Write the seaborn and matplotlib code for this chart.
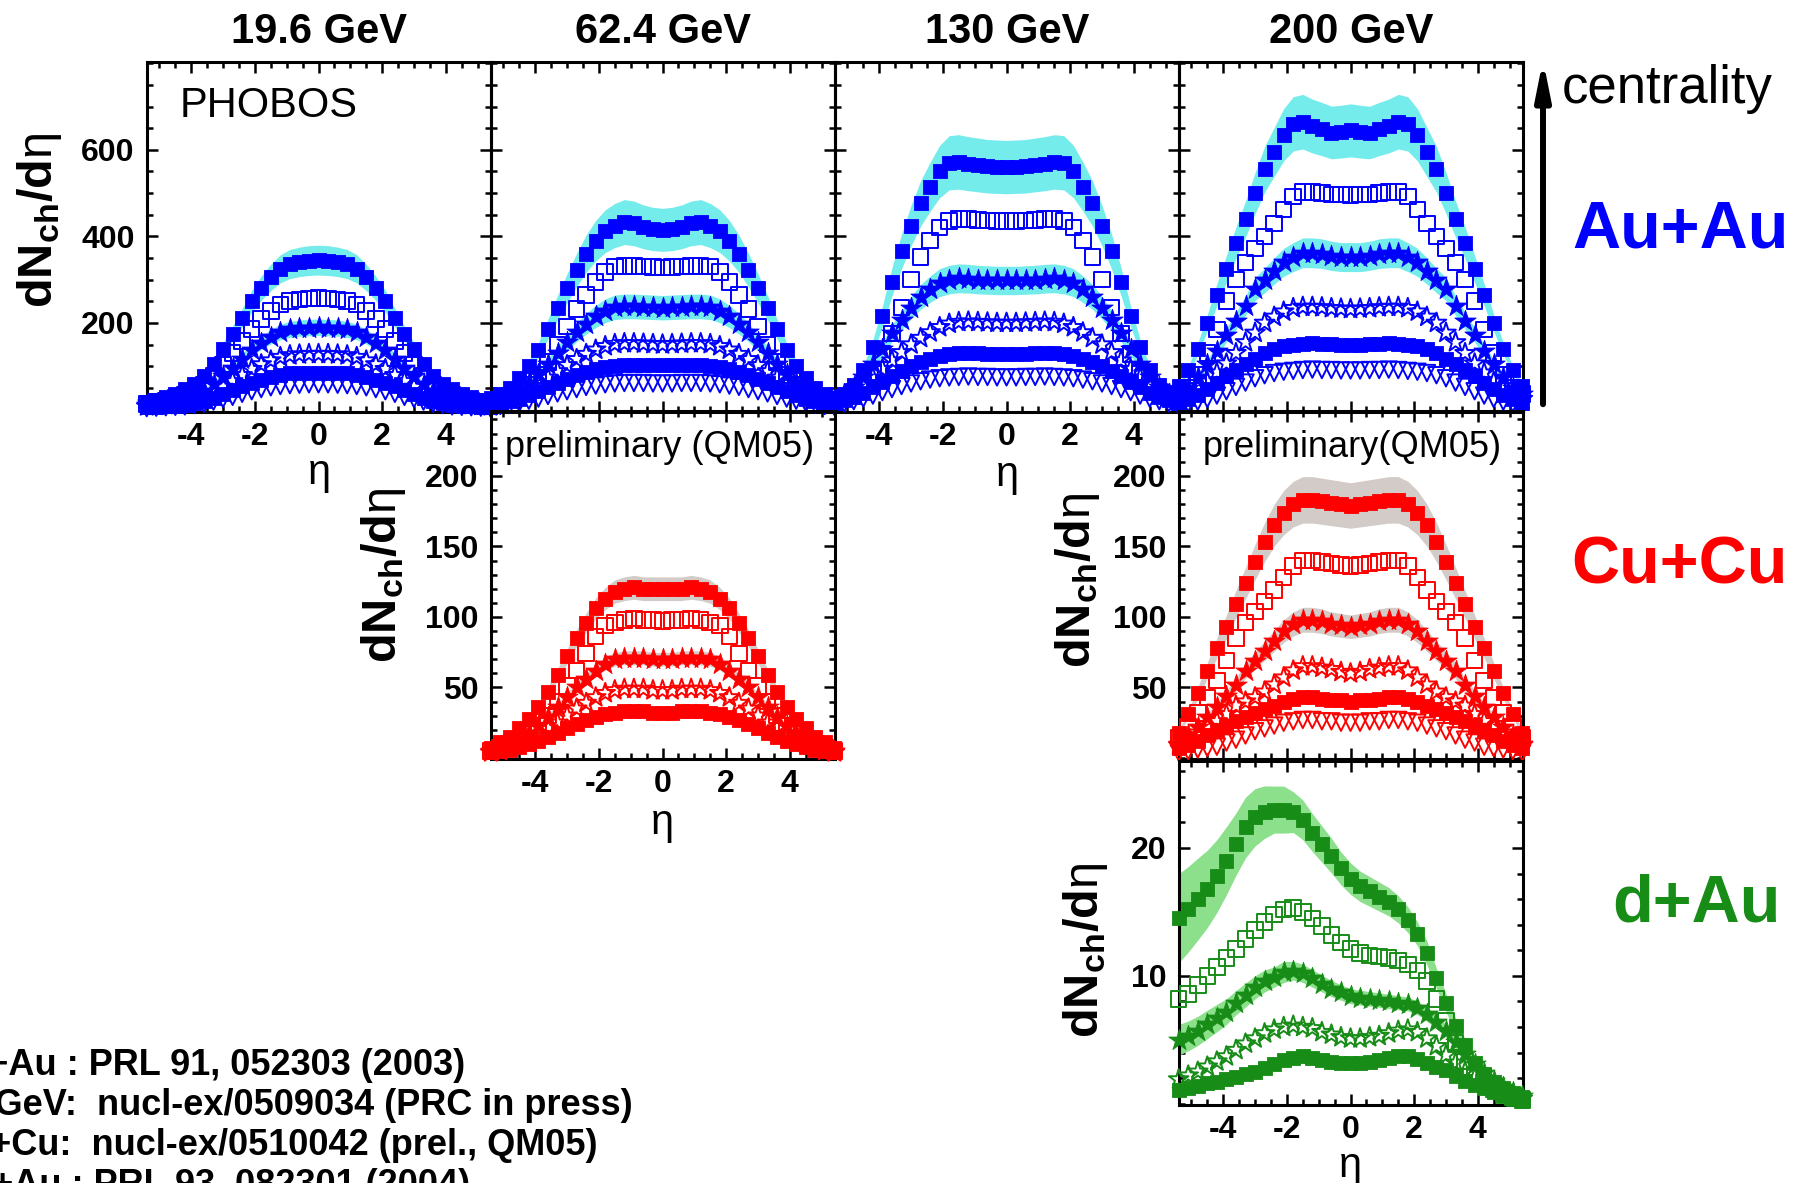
import numpy as np
import pandas as pd
import matplotlib
matplotlib.use("Agg")
import matplotlib.pyplot as plt
from matplotlib.patches import FancyArrowPatch
from matplotlib.ticker import MultipleLocator
import seaborn as sns

sns.set_style("ticks")
plt.rcParams.update({
    "font.family": ["Liberation Sans", "DejaVu Sans"],
    "mathtext.fontset": "custom",
    "mathtext.rm": "Liberation Sans",
    "mathtext.it": "Liberation Sans:italic",
    "mathtext.bf": "Liberation Sans:bold",
    "axes.edgecolor": "black",
    "xtick.color": "black",
    "ytick.color": "black",
    "text.color": "black",
})

W, H, DPI = 1811, 1183, 100

# pseudorapidity bins shared by all panels
eta = [-5.4, -5.1, -4.8, -4.5, -4.2, -3.9, -3.6, -3.3, -3.0, -2.7, -2.4, -2.1, -1.8,
       -1.5, -1.2, -0.9, -0.6, -0.3, 0.0, 0.3, 0.6, 0.9, 1.2, 1.5, 1.8, 2.1, 2.4,
       2.7, 3.0, 3.3, 3.6, 3.9, 4.2, 4.5, 4.8, 5.1, 5.4]

# ---- Au+Au dN/deta, centrality 0-6, 6-15, 15-25, 25-35, 35-45, 45-55 % ----
au19_c0 = [18, 22, 28, 36, 47, 58, 78, 105, 140, 175, 212, 250, 280, 305, 325, 336, 341, 344, 345, 344, 341, 336, 325, 305, 280, 250, 212, 175, 140, 105, 78, 58, 47, 36, 28, 22, 18]
au19_c1 = [13, 17, 21, 26, 33, 43, 58, 78, 104, 130, 158, 186, 209, 227, 242, 250, 254, 256, 257, 256, 254, 250, 242, 227, 209, 186, 158, 130, 104, 78, 58, 43, 33, 26, 21, 17, 13]
au19_c2 = [10, 12, 15, 19, 24, 32, 43, 58, 77, 96, 117, 138, 154, 168, 179, 185, 188, 189, 190, 189, 188, 185, 179, 168, 154, 138, 117, 96, 77, 58, 43, 32, 24, 19, 15, 12, 10]
au19_c3 = [7, 8, 10, 13, 16, 22, 29, 39, 52, 65, 79, 93, 104, 113, 121, 125, 127, 128, 128, 128, 127, 125, 121, 113, 104, 93, 79, 65, 52, 39, 29, 22, 16, 13, 10, 8, 7]
au19_c4 = [5, 6, 7, 9, 11, 15, 20, 27, 35, 44, 53, 62, 69, 75, 80, 83, 84, 85, 85, 85, 84, 83, 80, 75, 69, 62, 53, 44, 35, 27, 20, 15, 11, 9, 7, 6, 5]
au19_c5 = [3, 4, 5, 6, 7, 10, 13, 18, 24, 29, 36, 42, 47, 51, 54, 56, 57, 58, 58, 58, 57, 56, 54, 51, 47, 42, 36, 29, 24, 18, 13, 10, 7, 6, 5, 4, 3]

au62_c0 = [27, 36, 50, 72, 100, 137, 186, 235, 280, 322, 360, 390, 412, 425, 433, 430, 422, 417, 415, 417, 422, 430, 433, 425, 412, 390, 360, 322, 280, 235, 186, 137, 100, 72, 50, 36, 27]
au62_c1 = [17, 23, 31, 42, 58, 80, 110, 150, 192, 232, 265, 295, 318, 330, 332, 331, 330, 329, 328, 329, 330, 331, 332, 330, 318, 295, 265, 232, 192, 150, 110, 80, 58, 42, 31, 23, 17]
au62_c2 = [18, 24, 33, 45, 62, 82, 105, 130, 155, 178, 198, 215, 228, 236, 238, 238, 237, 236, 235, 236, 237, 238, 238, 236, 228, 215, 198, 178, 155, 130, 105, 82, 62, 45, 33, 24, 18]
au62_c3 = [13, 18, 25, 34, 45, 58, 73, 88, 102, 116, 128, 138, 146, 151, 153, 153, 152, 151, 150, 151, 152, 153, 153, 151, 146, 138, 128, 116, 102, 88, 73, 58, 45, 34, 25, 18, 13]
au62_c4 = [10, 14, 19, 25, 33, 42, 51, 61, 70, 79, 87, 93, 98, 101, 103, 103, 103, 102, 102, 102, 103, 103, 103, 101, 98, 93, 87, 79, 70, 61, 51, 42, 33, 25, 19, 14, 10]
au62_c5 = [6, 8, 11, 15, 20, 25, 31, 37, 42, 47, 52, 55, 58, 60, 61, 61, 61, 60, 60, 60, 61, 61, 61, 60, 58, 55, 52, 47, 42, 37, 31, 25, 20, 15, 11, 8, 6]

au130_c0 = [25, 36, 56, 90, 145, 215, 295, 365, 425, 476, 515, 550, 570, 572, 568, 565, 562, 561, 560, 561, 562, 565, 568, 572, 570, 550, 515, 476, 425, 365, 295, 215, 145, 90, 56, 36, 25]
au130_c1 = [18, 27, 40, 58, 85, 128, 175, 236, 300, 352, 390, 420, 435, 440, 440, 438, 437, 436, 435, 436, 437, 438, 440, 440, 435, 420, 390, 352, 300, 236, 175, 128, 85, 58, 40, 27, 18]
au130_c2 = [24, 35, 52, 75, 105, 140, 176, 206, 235, 260, 278, 293, 300, 303, 302, 300, 299, 298, 298, 298, 299, 300, 302, 303, 300, 293, 278, 260, 235, 206, 176, 140, 105, 75, 52, 35, 24]
au130_c3 = [19, 28, 40, 55, 73, 93, 113, 132, 150, 165, 178, 190, 198, 202, 203, 202, 201, 200, 200, 200, 201, 202, 203, 202, 198, 190, 178, 165, 150, 132, 113, 93, 73, 55, 40, 28, 19]
au130_c4 = [15, 21, 29, 39, 51, 64, 77, 89, 100, 110, 117, 123, 127, 130, 130, 130, 129, 128, 128, 128, 129, 130, 130, 130, 127, 123, 117, 110, 100, 89, 77, 64, 51, 39, 29, 21, 15]
au130_c5 = [10, 14, 19, 25, 32, 40, 47, 54, 60, 65, 69, 72, 74, 75, 76, 75, 75, 74, 74, 74, 75, 75, 76, 75, 74, 72, 69, 65, 60, 54, 47, 40, 32, 25, 19, 14, 10]

au200_c0 = [55, 90, 140, 200, 265, 325, 385, 440, 500, 555, 595, 635, 660, 665, 655, 648, 640, 642, 645, 642, 640, 648, 655, 665, 660, 635, 595, 555, 500, 440, 385, 325, 265, 200, 140, 90, 55]
au200_c1 = [35, 50, 80, 130, 185, 250, 300, 340, 372, 400, 430, 462, 492, 503, 502, 500, 497, 497, 495, 497, 497, 500, 502, 503, 492, 462, 430, 400, 372, 340, 300, 250, 185, 130, 80, 50, 35]
au200_c2 = [35, 50, 75, 105, 136, 172, 205, 240, 278, 298, 320, 340, 352, 362, 362, 360, 355, 352, 352, 352, 355, 360, 362, 362, 352, 340, 320, 298, 278, 240, 205, 172, 136, 105, 75, 50, 35]
au200_c3 = [24, 33, 47, 64, 85, 106, 130, 155, 177, 200, 214, 226, 234, 237, 237, 236, 234, 233, 232, 233, 234, 236, 237, 237, 234, 226, 214, 200, 177, 155, 130, 106, 85, 64, 47, 33, 24]
au200_c4 = [15, 23, 34, 47, 62, 78, 91, 104, 117, 130, 140, 146, 150, 152, 153, 152, 151, 150, 150, 150, 151, 152, 153, 152, 150, 146, 140, 130, 117, 104, 91, 78, 62, 47, 34, 23, 15]
au200_c5 = [11, 14, 18, 24, 32, 42, 52, 62, 72, 79, 84, 87, 89, 91, 92, 91, 91, 90, 90, 90, 91, 91, 92, 91, 89, 87, 84, 79, 72, 62, 52, 42, 32, 24, 18, 14, 11]

# ---- Cu+Cu dN/deta (preliminary) ----
cu62_c0 = [7, 11, 15, 21, 28, 36, 47, 59, 72, 85, 96, 106, 113, 118, 120, 121, 120, 120, 120, 120, 120, 121, 120, 118, 113, 106, 96, 85, 72, 59, 47, 36, 28, 21, 15, 11, 7]
cu62_c1 = [5, 7, 10, 13, 17, 23, 30, 40, 51, 62, 74, 86, 94, 96, 98, 99, 98, 98, 97, 98, 98, 99, 98, 96, 94, 86, 74, 62, 51, 40, 30, 23, 17, 13, 10, 7, 5]
cu62_c2 = [5, 7, 10, 14, 18, 23, 29, 36, 43, 50, 56, 62, 67, 70, 71, 71, 71, 70, 70, 70, 71, 71, 71, 70, 67, 62, 56, 50, 43, 36, 29, 23, 18, 14, 10, 7, 5]
cu62_c3 = [4, 5, 7, 10, 13, 17, 21, 25, 30, 35, 39, 43, 46, 48, 49, 49, 49, 48, 48, 48, 49, 49, 49, 48, 46, 43, 39, 35, 30, 25, 21, 17, 13, 10, 7, 5, 4]
cu62_c4 = [4, 5, 6, 8, 10, 12, 15, 18, 21, 24, 27, 29, 31, 32, 33, 33, 33, 32, 32, 32, 33, 33, 33, 32, 31, 29, 27, 24, 21, 18, 15, 12, 10, 8, 6, 5, 4]

cu200_c0 = [18, 31, 46, 62, 78, 93, 109, 124, 139, 153, 165, 174, 180, 183, 183, 182, 181, 180, 179, 180, 181, 182, 183, 183, 180, 174, 165, 153, 139, 124, 109, 93, 78, 62, 46, 31, 18]
cu200_c1 = [14, 22, 32, 43, 55, 69, 85, 96, 104, 111, 119, 128, 136, 140, 140, 139, 138, 137, 136, 137, 138, 139, 140, 140, 136, 128, 119, 111, 104, 96, 85, 69, 55, 43, 32, 22, 14]
cu200_c2 = [10, 16, 22, 29, 36, 44, 52, 62, 69, 76, 83, 90, 95, 98, 98, 97, 95, 94, 93, 94, 95, 97, 98, 98, 95, 90, 83, 76, 69, 62, 52, 44, 36, 29, 22, 16, 10]
cu200_c3 = [9, 13, 18, 22, 26, 31, 37, 40, 43, 47, 52, 57, 62, 65, 65, 64, 63, 61, 60, 61, 63, 64, 65, 65, 62, 57, 52, 47, 43, 40, 37, 31, 26, 22, 18, 13, 9]
cu200_c4 = [7, 9, 12, 16, 20, 23, 26, 29, 32, 35, 37, 40, 42, 43, 43, 42, 41, 41, 40, 41, 41, 42, 43, 43, 42, 40, 37, 35, 32, 29, 26, 23, 20, 16, 12, 9, 7]
cu200_c5 = [4, 5, 6, 7, 8, 11, 13, 16, 19, 21, 23, 25, 26, 27, 27, 26, 26, 25, 25, 25, 26, 26, 27, 27, 26, 25, 23, 21, 19, 16, 13, 11, 8, 7, 6, 5, 4]

# ---- d+Au dN/deta, centrality 0-20, 20-40, 40-60, 60-80, 80-100 % ----
dau_c0 = [14.5, 15.2, 16.0, 16.8, 17.8, 19.0, 20.3, 21.6, 22.4, 22.8, 23.0, 23.0, 22.8, 22.2, 21.2, 20.3, 19.4, 18.4, 17.6, 17.0, 16.6, 16.2, 15.8, 15.2, 14.4, 13.3, 11.8, 9.8, 7.9, 6.1, 4.6, 3.2, 2.3, 1.7, 1.2, 0.8, 0.5]
dau_c1 = [8.2, 8.6, 9.3, 10.0, 10.7, 11.4, 12.1, 12.9, 13.6, 14.2, 14.8, 15.2, 15.3, 15.0, 14.5, 13.9, 13.2, 12.6, 12.1, 11.8, 11.6, 11.5, 11.4, 11.2, 10.9, 10.4, 9.6, 8.2, 6.5, 4.8, 3.3, 2.3, 1.6, 1.1, 0.8, 0.5, 0.3]
dau_c2 = [5.0, 5.3, 5.7, 6.2, 6.7, 7.2, 7.9, 8.5, 9.1, 9.6, 9.9, 10.3, 10.4, 10.2, 9.8, 9.4, 9.0, 8.7, 8.4, 8.3, 8.2, 8.1, 8.0, 7.9, 7.8, 7.5, 7.0, 6.4, 5.7, 4.8, 3.9, 3.1, 2.4, 1.8, 1.3, 0.9, 0.6]
dau_c3 = [1.9, 2.2, 2.5, 2.9, 3.3, 3.7, 4.2, 4.7, 5.1, 5.5, 5.8, 6.0, 6.1, 6.0, 5.9, 5.6, 5.4, 5.2, 5.1, 5.1, 5.2, 5.3, 5.5, 5.7, 5.8, 5.6, 5.1, 4.5, 3.8, 3.2, 2.5, 2.0, 1.5, 1.1, 0.8, 0.6, 0.4]
dau_c4 = [1.1, 1.2, 1.4, 1.6, 1.7, 1.9, 2.1, 2.3, 2.5, 2.8, 3.1, 3.4, 3.6, 3.7, 3.6, 3.4, 3.3, 3.2, 3.2, 3.2, 3.3, 3.4, 3.6, 3.7, 3.7, 3.5, 3.2, 2.9, 2.6, 2.2, 1.8, 1.5, 1.2, 0.9, 0.6, 0.4, 0.3]

# relative systematic uncertainties
au_syst = {"19.6": 0.10, "62.4": 0.12, "130": 0.11, "200": 0.095}
cu_syst = {"62.4": 0.07, "200": 0.09}
dau_syst = [0.24, 0.22, 0.20, 0.18, 0.16, 0.14, 0.12, 0.11, 0.10, 0.09, 0.08, 0.08, 0.07,
            0.07, 0.07, 0.07, 0.07, 0.07, 0.07, 0.07, 0.07, 0.07, 0.07, 0.07, 0.07, 0.07,
            0.08, 0.08, 0.09, 0.10, 0.10, 0.10, 0.10, 0.10, 0.10, 0.10, 0.10]

energies = ["19.6 GeV", "62.4 GeV", "130 GeV", "200 GeV"]
references = ["Au+Au : PRL 91, 052303 (2003)",
              "62.4 GeV:  nucl-ex/0509034 (PRC in press)",
              "Cu+Cu:  nucl-ex/0510042 (prel., QM05)",
              "d+Au : PRL 93, 082301 (2004)"]

AU_BLUE, AU_BAND = "#0000ff", "#74ecec"
CU_RED, CU_BAND = "#ff0000", "#d3cbc7"
DAU_GREEN, DAU_BAND = "#178c17", "#8ce08c"

# marker, filled?, size
STYLES = [("s", True, 105), ("s", False, 125), ("*", True, 260),
          ("*", False, 220), ("s", True, 100), ("v", False, 140)]


def fx(x):
    return x / W


def fy(y):
    return 1 - y / H


def add_panel(l, t, r, b):
    return fig.add_axes([fx(l), fy(b), (r - l) / W, (b - t) / H])


def draw_series(ax, series, color, band_color, syst):
    frac = np.asarray(syst, float)
    x = np.asarray(eta)
    for k, vals in enumerate(series):
        if STYLES[k][1]:
            v = np.asarray(vals, float)
            ax.fill_between(x, v * (1 - frac), v * (1 + frac), color=band_color,
                            lw=0, zorder=1)
    for k, vals in enumerate(series):
        marker, filled, size = STYLES[k]
        df = pd.DataFrame({"eta": eta, "dndeta": vals})
        kw = dict(color=color, edgecolor=color, marker=marker, s=size,
                  linewidth=1.4 if not filled else 0.6, zorder=3 + k,
                  clip_on=False, legend=False, ax=ax)
        if not filled:
            kw["facecolor"] = "none"
        sns.scatterplot(data=df, x="eta", y="dndeta", **kw)


def frame(ax, ylim, yticks, yminor, xlabels, ylabels):
    ax.set_xlim(-5.39, 5.42)
    ax.set_ylim(*ylim)
    xt = [-4, -2, 0, 2, 4]
    ax.set_xticks(xt, labels=[f"{t:d}" for t in xt], fontsize=23, fontweight="bold")
    ax.set_yticks(yticks, labels=[str(t) for t in yticks], fontsize=23, fontweight="bold")
    ax.xaxis.set_minor_locator(MultipleLocator(0.5))
    ax.yaxis.set_minor_locator(MultipleLocator(yminor))
    ax.tick_params(which="both", direction="in", top=True, right=True,
                   bottom=True, left=True, width=1.8, color="black")
    ax.tick_params(which="major", length=8)
    ax.tick_params(which="minor", length=4.5)
    ax.tick_params(axis="x", pad=7, labelbottom=xlabels)
    ax.tick_params(axis="y", pad=9, labelleft=ylabels)
    for s in ax.spines.values():
        s.set_visible(True)
        s.set_linewidth(2.2)
        s.set_color("black")
    ax.set_xlabel("")
    ax.set_ylabel("")
    ax.patch.set_alpha(0)


fig = plt.figure(figsize=(W / DPI, H / DPI), dpi=DPI)

# ---- Au+Au row ----
au_data = [
    ("19.6", [au19_c0, au19_c1, au19_c2, au19_c3, au19_c4, au19_c5]),
    ("62.4", [au62_c0, au62_c1, au62_c2, au62_c3, au62_c4, au62_c5]),
    ("130", [au130_c0, au130_c1, au130_c2, au130_c3, au130_c4, au130_c5]),
    ("200", [au200_c0, au200_c1, au200_c2, au200_c3, au200_c4, au200_c5]),
]
au_left = [147, 491, 835, 1179]
for i, (key, series) in enumerate(au_data):
    ax = add_panel(au_left[i], 62, au_left[i] + 344, 412)
    draw_series(ax, series, AU_BLUE, AU_BAND, au_syst[key])
    frame(ax, (-6, 803), [200, 400, 600], 50, xlabels=(i in (0, 2)), ylabels=(i == 0))
    fig.text(fx(au_left[i] + 172), fy(43), energies[i], fontsize=30,
             fontweight="bold", ha="center", va="baseline")

# ---- Cu+Cu row ----
ax = add_panel(491, 411, 835, 759)
draw_series(ax, [cu62_c0, cu62_c1, cu62_c2, cu62_c3, cu62_c4], CU_RED, CU_BAND, cu_syst["62.4"])
frame(ax, (-0.7, 246), [50, 100, 150, 200], 10, xlabels=True, ylabels=True)
ax.text(fx(505), fy(457), "preliminary (QM05)", transform=fig.transFigure,
        fontsize=26, ha="left", va="baseline")

ax = add_panel(1179, 411, 1523, 759)
draw_series(ax, [cu200_c0, cu200_c1, cu200_c2, cu200_c3, cu200_c4, cu200_c5],
            CU_RED, CU_BAND, cu_syst["200"])
frame(ax, (-0.7, 246), [50, 100, 150, 200], 10, xlabels=False, ylabels=True)
ax.text(fx(1203), fy(457), "preliminary(QM05)", transform=fig.transFigure,
        fontsize=26, ha="left", va="baseline")

# ---- d+Au ----
ax = add_panel(1179, 761, 1523, 1105)
draw_series(ax, [dau_c0, dau_c1, dau_c2, dau_c3, dau_c4], DAU_GREEN, DAU_BAND, dau_syst)
frame(ax, (-0.1, 26.8), [10, 20], 2, xlabels=True, ylabels=True)

# ---- axis titles ----
ylab = r"$\mathbf{dN_{ch}/d}\mathrm{\eta}$"
for (x, y) in [(40, 220), (384, 575), (1077, 580), (1086, 950)]:
    fig.text(fx(x), fy(y), ylab, fontsize=35, rotation=90, ha="center", va="center")
for (x, y) in [(319, 473), (1007, 475), (662, 823), (1350, 1166)]:
    fig.text(fx(x), fy(y), "\u03b7", fontsize=30, ha="center", va="center")

fig.text(fx(180), fy(117), "PHOBOS", fontsize=30, ha="left", va="baseline")

# ---- centrality arrow and system labels ----
fig.add_artist(FancyArrowPatch((fx(1543), fy(407)), (fx(1543), fy(57)),
                               transform=fig.transFigure,
                               arrowstyle="-|>,head_length=1.1,head_width=0.22",
                               mutation_scale=20, lw=4.3, color="black"))
fig.text(fx(1562), fy(103), "centrality", fontsize=38, ha="left", va="baseline")
fig.text(fx(1572), fy(247), "Au+Au", fontsize=48, fontweight="bold",
         color=AU_BLUE, ha="left", va="baseline")
fig.text(fx(1571), fy(583), "Cu+Cu", fontsize=48, fontweight="bold",
         color=CU_RED, ha="left", va="baseline")
fig.text(fx(1612), fy(921), "d+Au", fontsize=48, fontweight="bold",
         color=DAU_GREEN, ha="left", va="baseline")

# ---- publication references ----
for txt, xr, yb in zip(references, [465, 633, 597, 470], [1075, 1115, 1155, 1195]):
    fig.text(fx(xr), fy(yb), txt, fontsize=26, fontweight="bold",
             ha="right", va="baseline")

fig.savefig("out.png", dpi=DPI, facecolor="white")
